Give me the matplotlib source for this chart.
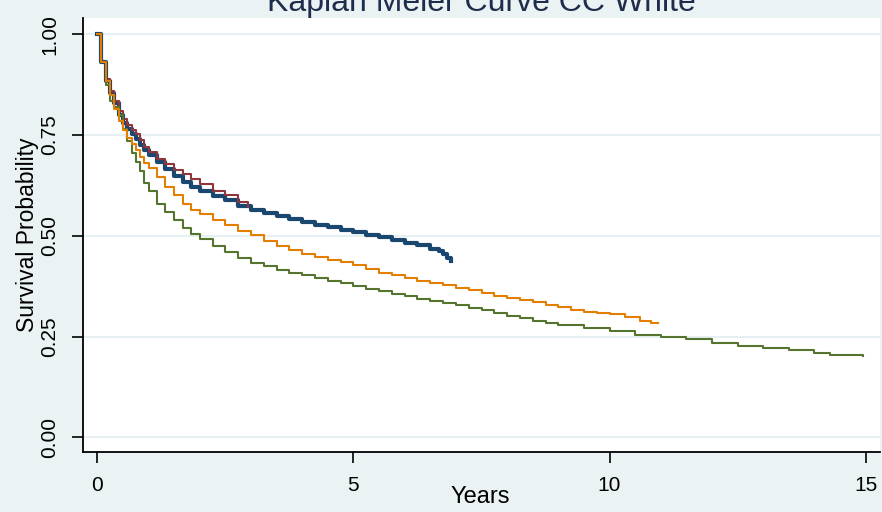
import matplotlib
matplotlib.use('Agg')
import matplotlib.pyplot as plt

# Kaplan-Meier survival estimates
t_blue = [0, 0.08, 0.17, 0.25, 0.33, 0.42, 0.5, 0.58, 0.67, 0.75, 0.83, 0.92, 1.0,
          1.17, 1.33, 1.5, 1.67, 1.83, 2.0, 2.25, 2.5, 2.75, 3.0, 3.25, 3.5, 3.75,
          4.0, 4.25, 4.5, 4.75, 5.0, 5.25, 5.5, 5.75, 6.0, 6.25, 6.5, 6.67, 6.75,
          6.83, 6.9]
s_blue = [1.0, 0.93, 0.885, 0.855, 0.83, 0.80, 0.78, 0.765, 0.752, 0.74, 0.725, 0.712, 0.700,
          0.682, 0.665, 0.648, 0.634, 0.622, 0.612, 0.599, 0.588, 0.575, 0.564, 0.556, 0.549,
          0.541, 0.534, 0.527, 0.521, 0.515, 0.509, 0.503, 0.496, 0.490, 0.483, 0.476, 0.468,
          0.462, 0.455, 0.445, 0.437]

t_red = [0, 0.08, 0.17, 0.25, 0.33, 0.42, 0.5, 0.58, 0.67, 0.75, 0.83, 0.92, 1.0,
         1.17, 1.33, 1.5, 1.67, 1.83, 2.0, 2.25, 2.5, 2.75, 2.94]
s_red = [1.0, 0.93, 0.89, 0.86, 0.835, 0.81, 0.79, 0.775, 0.762, 0.752, 0.738, 0.72, 0.708,
         0.69, 0.677, 0.664, 0.653, 0.64, 0.628, 0.612, 0.600, 0.585, 0.572]

t_orange = [0, 0.08, 0.17, 0.25, 0.33, 0.42, 0.5, 0.58, 0.67, 0.75, 0.83, 0.92, 1.0,
            1.17, 1.33, 1.5, 1.67, 1.83, 2.0, 2.25, 2.5, 2.75, 3.0, 3.25, 3.5, 3.75,
            4.0, 4.25, 4.5, 4.75, 5.0, 5.25, 5.5, 5.75, 6.0, 6.25, 6.5, 6.75, 7.0,
            7.25, 7.5, 7.75, 8.0, 8.25, 8.5, 8.75, 9.0, 9.25, 9.5, 9.75, 10.0, 10.3,
            10.6, 10.8, 10.95]
s_orange = [1.0, 0.93, 0.885, 0.85, 0.815, 0.785, 0.762, 0.742, 0.727, 0.713, 0.695, 0.68, 0.668,
            0.645, 0.62, 0.60, 0.578, 0.565, 0.553, 0.54, 0.527, 0.513, 0.502, 0.488, 0.475,
            0.465, 0.455, 0.448, 0.441, 0.434, 0.428, 0.418, 0.409, 0.402, 0.395, 0.389, 0.383,
            0.377, 0.371, 0.365, 0.358, 0.351, 0.345, 0.340, 0.335, 0.329, 0.323, 0.317, 0.312,
            0.309, 0.305, 0.298, 0.29, 0.284, 0.283]

t_green = [0, 0.08, 0.17, 0.25, 0.33, 0.42, 0.5, 0.58, 0.67, 0.75, 0.83, 0.92, 1.0,
           1.17, 1.33, 1.5, 1.67, 1.83, 2.0, 2.25, 2.5, 2.75, 3.0, 3.25, 3.5, 3.75,
           4.0, 4.25, 4.5, 4.75, 5.0, 5.25, 5.5, 5.75, 6.0, 6.25, 6.5, 6.75, 7.0,
           7.25, 7.5, 7.75, 8.0, 8.25, 8.5, 8.75, 9.0, 9.5, 10.0, 10.5, 11.0, 11.5,
           12.0, 12.5, 13.0, 13.5, 14.0, 14.3, 14.95]
s_green = [1.0, 0.93, 0.875, 0.835, 0.82, 0.80, 0.765, 0.735, 0.705, 0.683, 0.66, 0.63, 0.61,
           0.58, 0.56, 0.54, 0.52, 0.505, 0.492, 0.475, 0.46, 0.445, 0.432, 0.424, 0.416,
           0.409, 0.402, 0.395, 0.389, 0.382, 0.375, 0.369, 0.363, 0.356, 0.350, 0.344, 0.339,
           0.333, 0.328, 0.322, 0.317, 0.308, 0.300, 0.295, 0.290, 0.285, 0.280, 0.272, 0.265,
           0.255, 0.250, 0.243, 0.235, 0.228, 0.222, 0.216, 0.21, 0.204, 0.203]

x_ticks = [0, 5, 10, 15]
y_ticks = [0.00, 0.25, 0.50, 0.75, 1.00]
y_ticklabels = ['0.00', '0.25', '0.50', '0.75', '1.00']

plt.rcParams['font.family'] = ['Liberation Sans', 'DejaVu Sans']

bg = '#eaf2f3'
fig = plt.figure(figsize=(8.82, 5.12), dpi=100, facecolor=bg)
ax = fig.add_axes([83 / 882, 60 / 512, 797 / 882, 434 / 512])
ax.set_facecolor('white')

ax.plot(t_blue, s_blue, drawstyle='steps-post', color='#1a476f', lw=3.0, zorder=3)
ax.plot(t_red, s_red, drawstyle='steps-post', color='#90353b', lw=1.5, zorder=4)
ax.plot(t_green, s_green, drawstyle='steps-post', color='#55752f', lw=1.5, zorder=4)
ax.plot(t_orange, s_orange, drawstyle='steps-post', color='#e37e00', lw=1.5, zorder=5)

ax.set_xlim(-0.28, 15.28)
ax.set_ylim(-0.036, 1.04)
ax.set_xticks(x_ticks)
ax.set_yticks(y_ticks)
ax.set_yticklabels(y_ticklabels, rotation=90, va='center')
ax.tick_params(length=8, width=1.2, color='black', labelsize=15, pad=9)
ax.grid(axis='y', color='#e6eff1', lw=1.5, zorder=0)
for s in ['top', 'right']:
    ax.spines[s].set_visible(False)
for s in ['left', 'bottom']:
    ax.spines[s].set_linewidth(1.3)

fig.text(481 / 882, 1 - 11 / 512, 'Kaplan Meier Curve CC White', ha='center', va='baseline',
         fontsize=23, color='#1e2d4b')
fig.text(28 / 882, 1 - 235 / 512, 'Survival Probability', rotation=90, ha='center', va='center',
         fontsize=16.5)
fig.text(480 / 882, 1 - 497 / 512, 'Years', ha='center', va='center', fontsize=17)

fig.savefig('out.png', dpi=100, facecolor=bg)
